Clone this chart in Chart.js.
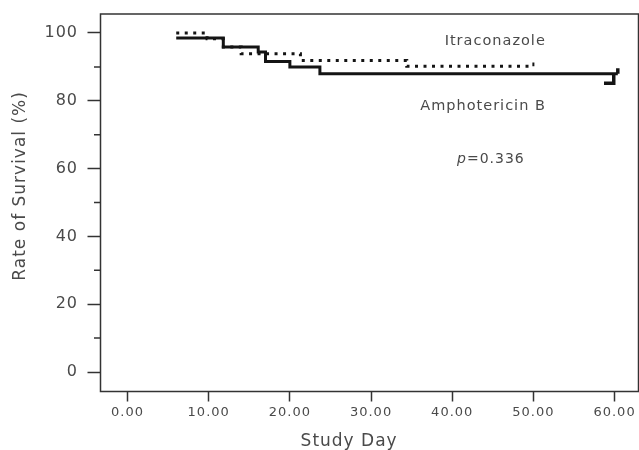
<!DOCTYPE html>
<html><head><meta charset="utf-8">
<script src="https://cdn.jsdelivr.net/npm/chart.js@4/dist/chart.umd.min.js"></script>
<style>html,body{margin:0;padding:0;background:#fff;overflow:hidden}#wrap{width:639px;height:450px}</style>
</head><body><div id="wrap"><canvas id="c" width="639" height="450"></canvas></div>
<script>
// ---- data ----
const seriesNames = ['Itraconazole', 'Amphotericin B'];
const itraDays      = [6, 9.8, 11.8, 14.0, 21.3, 34.4, 50.0];
const itraSurvival  = [100, 98.3, 95.9, 93.9, 91.9, 90.2, 90.2];
const amphoDays     = [6, 11.8, 16.1, 17.0, 20.0, 23.7, 60.4];
const amphoSurvival = [98.5, 95.9, 94.4, 91.6, 90.0, 88.0, 88.0];
const itraCensorDays = [50.0, 50.0];
const itraCensorVals = [90.2, 91.3];
const amphoCensorDays = [60.4, 60.4];
const amphoCensorVals = [88.0, 89.6];
const amphoTailDays = [58.7, 59.9, 59.9];
const amphoTailVals = [85.2, 85.2, 88.0];
const xTickValues = [0, 10, 20, 30, 40, 50, 60];
const yTickValues = [0, 20, 40, 60, 80, 100];
const yMinorTicks = [10, 30, 50, 70, 90];
const xTitle = 'Study Day';
const yTitle = 'Rate of Survival (%)';
const pValueText = '=0.336';

const pts = (xs, ys) => xs.map((x, i) => ({x: x, y: ys[i]}));
const INK = '#141414';
const TXT = '#4a4a4a';
const FONT = "'DejaVu Sans', Verdana, sans-serif";

Chart.defaults.font.family = FONT;
Chart.defaults.color = TXT;

const spacingPlugin = {
  id: 'spacing',
  beforeDraw(chart) { chart.ctx.letterSpacing = '1px'; }
};

const framePlugin = {
  id: 'frame',
  afterDraw(chart) {
    const {ctx, chartArea: a, scales} = chart;
    ctx.save();
    ctx.strokeStyle = '#333';
    ctx.lineWidth = 1.5;
    ctx.strokeRect(a.left, a.top, a.right - a.left, a.bottom - a.top);
    ctx.beginPath();
    yMinorTicks.forEach(v => {
      const y = scales.y.getPixelForValue(v);
      ctx.moveTo(a.left - 6.5, y);
      ctx.lineTo(a.left, y);
    });
    ctx.stroke();
    // axis titles
    ctx.letterSpacing = '1px';
    ctx.fillStyle = TXT;
    ctx.font = "17px " + FONT;
    ctx.textAlign = 'center';
    ctx.textBaseline = 'middle';
    ctx.fillText(xTitle, scales.x.getPixelForValue(27.3), 442);
    ctx.translate(21, scales.y.getPixelForValue(54.9));
    ctx.rotate(-Math.PI / 2);
    ctx.fillText(yTitle, 0, 0);
    ctx.restore();
  }
};

const notePlugin = {
  id: 'notes',
  afterDatasetsDraw(chart) {
    const {ctx, scales} = chart;
    const X = v => scales.x.getPixelForValue(v), Y = v => scales.y.getPixelForValue(v);
    ctx.save();
    ctx.letterSpacing = '1px';
    ctx.fillStyle = TXT;
    ctx.textBaseline = 'middle';
    ctx.textAlign = 'center';
    ctx.font = "14.5px " + FONT;
    ctx.fillText(seriesNames[0], X(45.3), Y(97.5));
    ctx.fillText(seriesNames[1], X(43.8), Y(78.3));
    // p-value
    ctx.textAlign = 'left';
    ctx.font = "italic 14px " + FONT;
    const x0 = X(40.6);
    ctx.fillText('p', x0, Y(62.6));
    const w = ctx.measureText('p').width;
    ctx.font = "14px " + FONT;
    ctx.fillText(pValueText, x0 + w, Y(62.6));
    ctx.restore();
  }
};

new Chart(document.getElementById('c'), {
  type: 'line',
  data: {
    datasets: [
      { label: seriesNames[0], data: pts(itraDays, itraSurvival), stepped: 'before',
        borderColor: INK, borderWidth: 3, borderDash: [3, 5.5], borderCapStyle: 'butt', pointRadius: 0, fill: false },
      { label: seriesNames[1], data: pts(amphoDays, amphoSurvival), stepped: 'before',
        borderColor: INK, borderWidth: 3, pointRadius: 0, fill: false },
      { label: 'itra censor', data: pts(itraCensorDays, itraCensorVals),
        borderColor: INK, borderWidth: 2, pointRadius: 0, fill: false },
      { label: 'ampho censor', data: pts(amphoCensorDays, amphoCensorVals),
        borderColor: INK, borderWidth: 3.5, pointRadius: 0, fill: false },
      { label: 'ampho tail', data: pts(amphoTailDays, amphoTailVals),
        borderColor: INK, borderWidth: 3.5, pointRadius: 0, fill: false }
    ]
  },
  options: {
    responsive: false,
    animation: false,
    events: [],
    layout: { padding: { top: 14, right: 0.5, left: 0, bottom: 0 } },
    plugins: { legend: { display: false }, tooltip: { enabled: false } },
    scales: {
      x: {
        type: 'linear', min: -3.33, max: 62.95,
        afterBuildTicks: s => { s.ticks = xTickValues.map(v => ({value: v})); },
        afterFit: s => { s.height = 58.5; s.paddingLeft = 0; s.paddingRight = 0; },
        ticks: { callback: v => Number(v).toFixed(2), font: { size: 13 }, color: TXT, padding: 3, maxRotation: 0, autoSkip: false },
        grid: { drawOnChartArea: false, drawTicks: true, tickLength: 10, tickColor: '#333', tickWidth: 1.5 },
        border: { display: false },
        title: { display: false }
      },
      y: {
        type: 'linear', min: -5.75, max: 105.6,
        afterBuildTicks: s => { s.ticks = yTickValues.map(v => ({value: v})); },
        afterFit: s => { s.width = 100.5; s.paddingTop = 0; s.paddingBottom = 0; },
        ticks: { font: { size: 16 }, color: TXT, padding: 9.5, autoSkip: false },
        grid: { drawOnChartArea: false, drawTicks: true, tickLength: 13, tickColor: '#333', tickWidth: 1.5 },
        border: { display: false },
        title: { display: false }
      }
    }
  },
  plugins: [spacingPlugin, framePlugin, notePlugin]
});
</script>
</body></html>
